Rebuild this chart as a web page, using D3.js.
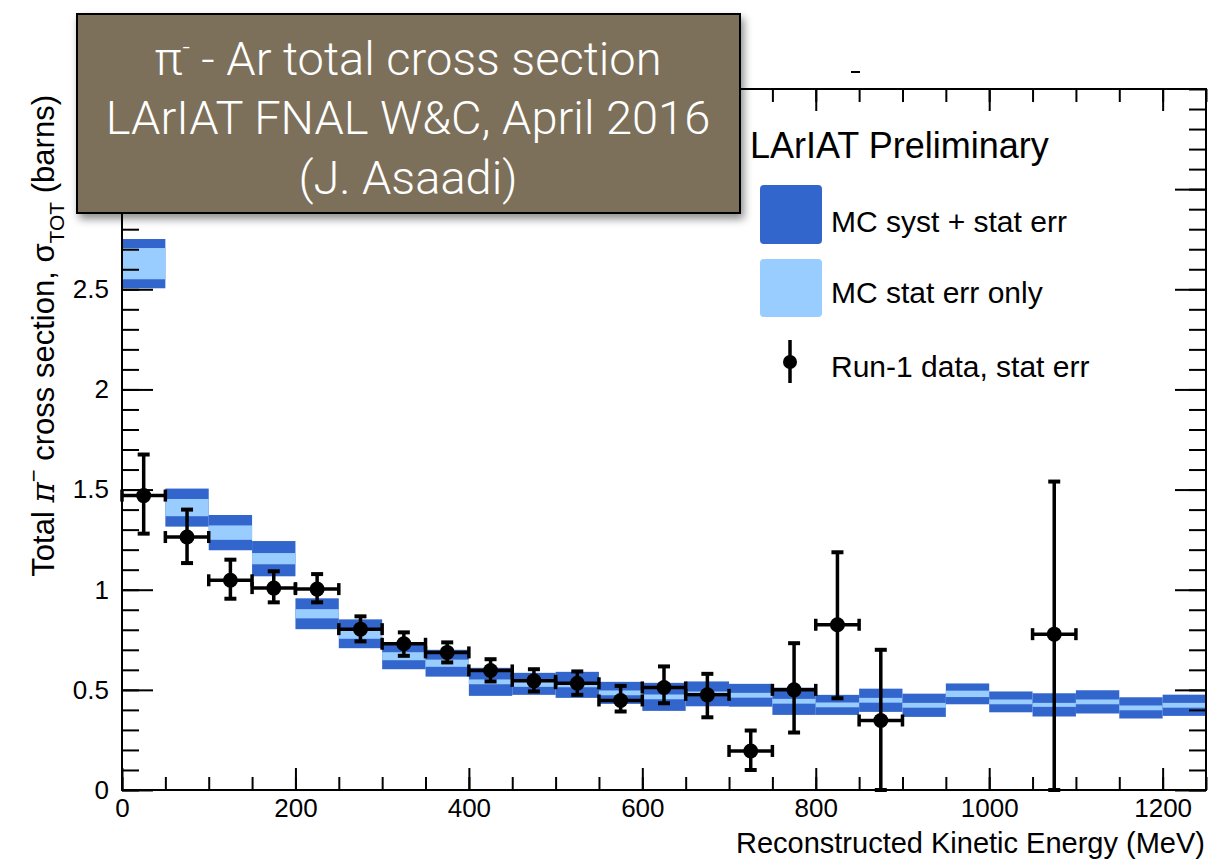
<!DOCTYPE html>
<html><head><meta charset="utf-8">
<script src="https://cdn.jsdelivr.net/npm/d3@7"></script>
<style>body{margin:0;background:#fff}svg{display:block}</style>
</head><body>
<svg id="c" width="1209" height="859"></svg>
<script>
// ---- data ----
const binLow   = [0,50,100,150,200,250,300,350,400,450,500,550,600,650,700,750,800,850,900,950,1000,1050,1100,1150,1200];
const binWidth = 50;
const mcCenter = [2.628,1.41,1.285,1.155,0.88,0.78,0.668,0.633,0.54,0.53,0.525,0.485,0.465,0.48,0.473,0.443,0.425,0.448,0.423,0.48,0.44,0.425,0.44,0.41,0.423];
const mcStat   = [0.078,0.043,0.036,0.028,0.023,0.025,0.02,0.018,0.012,0.015,0.012,0.012,0.012,0.012,0.012,0.012,0.012,0.012,0.012,0.016,0.012,0.01,0.012,0.012,0.012];
const mcTot    = [0.123,0.095,0.088,0.088,0.077,0.072,0.065,0.067,0.07,0.055,0.065,0.055,0.07,0.062,0.057,0.068,0.05,0.058,0.058,0.052,0.052,0.058,0.058,0.053,0.053];

const dataEnergy = [25,75,125,175,225,275,325,375,425,475,525,575,625,675,725,775,825,875,1075];
const dataValue  = [1.47,1.263,1.047,1.008,1.003,0.803,0.73,0.687,0.597,0.545,0.533,0.447,0.512,0.475,0.195,0.5,0.825,0.347,0.778];
const dataHigh   = [1.675,1.40,1.15,1.092,1.078,0.867,0.787,0.737,0.653,0.603,0.592,0.52,0.617,0.58,0.297,0.733,1.187,0.70,1.54];
const dataLow    = [1.28,1.133,0.955,0.937,0.937,0.742,0.67,0.637,0.542,0.492,0.475,0.392,0.433,0.363,0.10,0.287,0.458,0.0,0.0];

const xMajorTicks = [0,200,400,600,800,1000,1200];
const xMinorTicks = d3.range(0,1251,50);
const yMajorTicks = [0,0.5,1,1.5,2,2.5,3];
const yTickLabels = ["0","0.5","1","1.5","2","2.5","3"];
const yMinorTicks = d3.range(0,36).map(i=>i/10);

const legendLabels = ["MC syst + stat err","MC stat err only","Run-1 data, stat err"];
const titleLines = ["LArIAT FNAL W&C, April 2016","(J. Asaadi)"];

// ---- style ----
const DARK = "#3366cc", LIGHT = "#99ccff";
const FONT = "'Liberation Sans', Arial, Helvetica, sans-serif";

const svg = d3.select("#c");
const x = d3.scaleLinear().domain([0,1250]).range([122,1206]);
const y = d3.scaleLinear().domain([0,3.5]).range([790,89]);

const defs = svg.append("defs");
const f = defs.append("filter").attr("id","sh").attr("x","-10%").attr("y","-10%").attr("width","130%").attr("height","140%");
f.append("feDropShadow").attr("dx",3).attr("dy",5).attr("stdDeviation",4).attr("flood-color","#000").attr("flood-opacity",0.45);

// MC bands
const bands = svg.append("g");
binLow.forEach((lo,i)=>{
  bands.append("rect").attr("x",x(lo)).attr("width",x(lo+binWidth)-x(lo))
    .attr("y",y(mcCenter[i]+mcTot[i])).attr("height",y(mcCenter[i]-mcTot[i])-y(mcCenter[i]+mcTot[i]))
    .attr("fill",DARK);
  bands.append("rect").attr("x",x(lo)).attr("width",x(lo+binWidth)-x(lo))
    .attr("y",y(mcCenter[i]+mcStat[i])).attr("height",y(mcCenter[i]-mcStat[i])-y(mcCenter[i]+mcStat[i]))
    .attr("fill",LIGHT);
});

// Axes (ticks inward)
function styleAxis(g){ g.select(".domain").remove(); g.selectAll("line").attr("stroke","#000").attr("stroke-width",2); g.selectAll("text").attr("font-family",FONT).attr("fill","#000"); }
svg.append("g").attr("transform","translate(0,790)")
  .call(d3.axisBottom(x).tickValues(xMinorTicks).tickSize(-13).tickFormat("")).call(styleAxis);
svg.append("g").attr("transform","translate(0,790)")
  .call(d3.axisBottom(x).tickValues(xMajorTicks).tickSize(-22).tickPadding(9).tickFormat(d3.format("d")))
  .call(styleAxis).call(g=>g.selectAll("text").attr("font-size",26));
svg.append("g").attr("transform","translate(0,89)")
  .call(d3.axisTop(x).tickValues(xMinorTicks).tickSize(-13).tickFormat("")).call(styleAxis);
svg.append("g").attr("transform","translate(0,89)")
  .call(d3.axisTop(x).tickValues(xMajorTicks).tickSize(-22).tickFormat("")).call(styleAxis);
svg.append("g").attr("transform","translate(122,0)")
  .call(d3.axisLeft(y).tickValues(yMinorTicks).tickSize(-17).tickFormat("")).call(styleAxis);
svg.append("g").attr("transform","translate(122,0)")
  .call(d3.axisLeft(y).tickValues(yMajorTicks).tickSize(-31).tickPadding(13).tickFormat((d,i)=>yTickLabels[i]))
  .call(styleAxis).call(g=>g.selectAll("text").attr("font-size",26));
svg.append("g").attr("transform","translate(1206,0)")
  .call(d3.axisRight(y).tickValues(yMinorTicks).tickSize(-17).tickFormat("")).call(styleAxis);
svg.append("g").attr("transform","translate(1206,0)")
  .call(d3.axisRight(y).tickValues(yMajorTicks).tickSize(-31).tickFormat("")).call(styleAxis);

// frame
svg.append("rect").attr("x",x(0)).attr("y",y(3.5)).attr("width",x(1250)-x(0)).attr("height",y(0)-y(3.5))
  .attr("fill","none").attr("stroke","#000").attr("stroke-width",2);

// data points
const pts = svg.append("g").attr("stroke","#000").attr("stroke-width",3.5);
dataEnergy.forEach((e,i)=>{
  const cx=x(e), cy=y(dataValue[i]);
  const xl=x(e-binWidth/2), xr=x(e+binWidth/2);
  const yt=y(dataHigh[i]), yb=y(dataLow[i]);
  pts.append("line").attr("x1",xl).attr("x2",xr).attr("y1",cy).attr("y2",cy);
  pts.append("line").attr("x1",cx).attr("x2",cx).attr("y1",yt).attr("y2",yb);
  pts.append("line").attr("x1",xl).attr("x2",xl).attr("y1",cy-6).attr("y2",cy+6);
  pts.append("line").attr("x1",xr).attr("x2",xr).attr("y1",cy-6).attr("y2",cy+6);
  pts.append("line").attr("x1",cx-6).attr("x2",cx+6).attr("y1",yt).attr("y2",yt).attr("stroke-width",4);
  pts.append("line").attr("x1",cx-6).attr("x2",cx+6).attr("y1",yb).attr("y2",yb).attr("stroke-width",4);
  pts.append("circle").attr("cx",cx).attr("cy",cy).attr("r",7.5).attr("fill","#000").attr("stroke","none");
});

// axis titles
svg.append("text").attr("x",1205).attr("y",853).attr("text-anchor","end")
  .attr("font-family",FONT).attr("font-size",29).text("Reconstructed Kinetic Energy (MeV)");
const yt = svg.append("text").attr("transform","translate(54,95) rotate(-90)").attr("text-anchor","end")
  .attr("font-family",FONT).attr("font-size",31);
yt.append("tspan").text("Total ");
yt.append("tspan").attr("font-family","'DejaVu Serif', serif").attr("font-style","italic").text("π");
yt.append("tspan").attr("dy",-13).attr("font-size",22).text("−");
yt.append("tspan").attr("dy",13).text(" cross section, σ");
yt.append("tspan").attr("dy",10).attr("font-size",21).text("TOT");
yt.append("tspan").attr("dy",-10).text(" (barns)");

// small artifact dash above frame
svg.append("rect").attr("x",851).attr("y",71).attr("width",9).attr("height",2).attr("fill","#000");

// legend
svg.append("text").attr("x",750).attr("y",158).attr("font-family",FONT).attr("font-size",36).text("LArIAT Preliminary");
const lg = svg.append("g").attr("font-family",FONT).attr("font-size",30);
lg.append("rect").attr("x",760).attr("y",185).attr("width",62).attr("height",59).attr("rx",4).attr("fill",DARK);
lg.append("text").attr("x",831).attr("y",232).text(legendLabels[0]);
lg.append("rect").attr("x",760).attr("y",259).attr("width",62).attr("height",58).attr("rx",4).attr("fill",LIGHT);
lg.append("text").attr("x",831).attr("y",303).text(legendLabels[1]);
lg.append("line").attr("x1",790).attr("x2",790).attr("y1",340).attr("y2",383).attr("stroke","#000").attr("stroke-width",3.5);
lg.append("circle").attr("cx",790).attr("cy",362).attr("r",7).attr("fill","#000");
lg.append("text").attr("x",831).attr("y",377).text(legendLabels[2]);

// title box
const tb = svg.append("g");
tb.append("rect").attr("x",77).attr("y",14).attr("width",663).attr("height",199)
  .attr("fill","#7d705a").attr("stroke","#000").attr("stroke-width",2).attr("filter","url(#sh)");
const TF = "Roboto, 'Open Sans', 'Liberation Sans', sans-serif";
const l1 = tb.append("text").attr("x",408).attr("y",75).attr("text-anchor","middle").attr("fill","#fff")
  .attr("font-family",TF).attr("font-weight",300).attr("font-size",47);
l1.append("tspan").text("π");
l1.append("tspan").attr("font-size",26).attr("dy",-19).text("-");
l1.append("tspan").attr("dy",19).text(" - Ar total cross section");
titleLines.forEach((t,i)=>{
  tb.append("text").attr("x",408).attr("y",134+i*60).attr("text-anchor","middle").attr("fill","#fff")
    .attr("font-family",TF).attr("font-weight",300).attr("font-size",47).text(t);
});
</script>
</body></html>
